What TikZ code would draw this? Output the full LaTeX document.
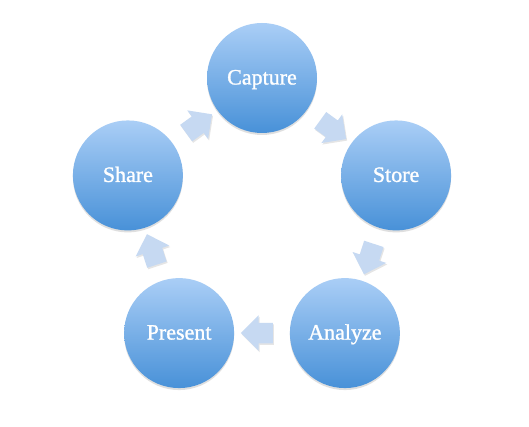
\documentclass[tikz,border=0pt]{standalone}
\usepackage{fontspec}
\setmainfont{Liberation Serif}
\newfontfamily\stagefont{Liberation Serif}[FakeBold=1.2]
\usetikzlibrary{positioning, calc, shapes.arrows, shadows}
\definecolor{stagetop}{RGB}{170,206,246}
\definecolor{stagebot}{RGB}{72,145,216}
\definecolor{blockfill}{RGB}{198,217,242}
\tikzstyle{Stage} = [
circle, minimum size=110pt, inner sep=0pt,
text height=13pt, text depth=0pt,
top color=stagetop, bottom color=stagebot,
drop shadow={shadow xshift=0pt, shadow yshift=-2pt, opacity=0.25},
text=white, font=\stagefont\fontsize{22}{26}\selectfont]
\tikzstyle{Block} = [
single arrow, inner xsep=0pt, inner ysep=10pt,
minimum height=32pt, minimum width=35pt,
single arrow head extend=7.5pt,
fill=blockfill,
drop shadow={shadow xshift=1pt, shadow yshift=-1.5pt, opacity=0.2}]

\begin{document}
\begin{tikzpicture}[x=1pt, y=1pt]
    \useasboundingbox [fill=white] (0,0) rectangle (529,427);
    \coordinate (c) at (262,208);
    \node [Stage] (1) at ($(c)+(90:141)$) {Capture};
    \node [Stage] (2) at ($(c)+(18:141)$) {Store};
    \node [Stage] (3) at ($(c)+(-54:141)$) {Analyze};
    \node [Stage] (4) at ($(c)+(-126:141)$) {Present};
    \node [Stage] (5) at ($(c)+(162:141)$) {Share};
    \node [Block, rotate=-36] (12) at ($(1)!0.5!(2)$) {};
    \node [Block, rotate=-108] (23) at ($(2)!0.5!(3)$) {};
    \node [Block, rotate=180] (34) at ($(3)!0.5!(4)$) {};
    \node [Block, rotate=108] (45) at ($(4)!0.5!(5)$) {};
    \node [Block, rotate=36] (51) at ($(5)!0.5!(1)$) {};
\end{tikzpicture}
\end{document}
